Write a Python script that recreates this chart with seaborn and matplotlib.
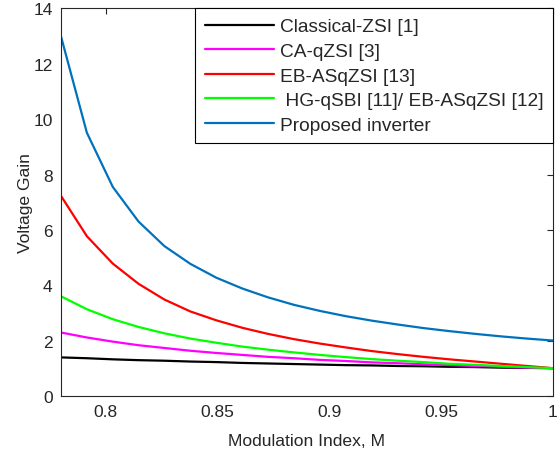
"""
Voltage gain vs modulation index for several impedance-source inverters.
"""

import matplotlib
matplotlib.use("Agg")
import matplotlib.pyplot as plt
import pandas as pd
import seaborn as sns

OUT_PATH = "out.png"

modulation_index = [
    0.78, 0.7916, 0.8032, 0.8147, 0.8263, 0.8379, 0.8495, 0.8611, 0.8726, 0.8842,
    0.8958, 0.9074, 0.9189, 0.9305, 0.9421, 0.9537, 0.9653, 0.9768, 0.9884, 1.0,
]

classical_zsi = [
    1.39, 1.36, 1.32, 1.29, 1.27, 1.24, 1.22, 1.19, 1.17, 1.15,
    1.13, 1.11, 1.10, 1.08, 1.07, 1.05, 1.04, 1.02, 1.01, 1.00,
]
ca_qzsi = [
    2.29, 2.11, 1.96, 1.83, 1.73, 1.63, 1.55, 1.48, 1.41, 1.36,
    1.30, 1.26, 1.21, 1.18, 1.14, 1.11, 1.08, 1.05, 1.02, 1.00,
]
eb_asqzsi_13 = [
    7.23, 5.77, 4.78, 4.05, 3.48, 3.05, 2.73, 2.46, 2.24, 2.05,
    1.89, 1.75, 1.62, 1.51, 1.41, 1.32, 1.24, 1.16, 1.08, 1.00,
]
hg_qsbi = [
    3.60, 3.13, 2.77, 2.49, 2.26, 2.07, 1.92, 1.78, 1.67, 1.57,
    1.48, 1.40, 1.33, 1.27, 1.22, 1.16, 1.12, 1.08, 1.04, 1.00,
]
proposed = [
    13.0, 9.51, 7.55, 6.30, 5.41, 4.77, 4.27, 3.88, 3.56, 3.29,
    3.07, 2.88, 2.72, 2.58, 2.45, 2.34, 2.24, 2.15, 2.07, 2.00,
]

series_labels = [
    "Classical-ZSI [1]",
    "CA-qZSI [3]",
    "EB-ASqZSI [13]",
    " HG-qSBI [11]/ EB-ASqZSI [12]",
    "Proposed inverter",
]
series_values = [classical_zsi, ca_qzsi, eb_asqzsi_13, hg_qsbi, proposed]
series_colors = ["#000000", "#ff00ff", "#ff0000", "#00ff00", "#0072bd"]

x_ticks = [0.8, 0.85, 0.9, 0.95, 1.0]
x_tick_labels = ["0.8", "0.85", "0.9", "0.95", "1"]
y_ticks = [0, 2, 4, 6, 8, 10, 12, 14]


def build_frame() -> pd.DataFrame:
    rows = []
    for label, values in zip(series_labels, series_values):
        for m, g in zip(modulation_index, values):
            rows.append({"M": m, "Gain": g, "Series": label})
    return pd.DataFrame(rows)


def main() -> None:
    sns.set_theme(style="white")
    plt.rcParams["font.family"] = ["Liberation Sans", "DejaVu Sans"]

    df = build_frame()
    fig = plt.figure(figsize=(5.59, 4.52), dpi=100)
    ax = fig.add_axes([0.109, 0.122, 0.880, 0.857])

    sns.lineplot(
        data=df,
        x="M",
        y="Gain",
        hue="Series",
        hue_order=series_labels,
        palette=dict(zip(series_labels, series_colors)),
        estimator=None,
        linewidth=1.6,
        ax=ax,
    )

    ax.set_xlim(0.78, 1.0)
    ax.set_ylim(0, 14)
    ax.set_xticks(x_ticks)
    ax.set_xticklabels(x_tick_labels)
    ax.set_yticks(y_ticks)
    ax.set_xlabel("Modulation Index, M", fontsize=12.6, color="#262626", labelpad=10)
    ax.set_ylabel("Voltage Gain", fontsize=12.6, color="#262626", labelpad=0.5)
    ax.tick_params(
        direction="in", length=4, width=0.8, colors="#262626",
        labelsize=12.5, top=True, right=True, pad=6,
    )
    for spine in ax.spines.values():
        spine.set_color("#262626")
        spine.set_linewidth(0.8)

    leg = ax.legend(
        loc="upper right",
        borderaxespad=0,
        fontsize=13.8,
        frameon=True,
        fancybox=False,
        edgecolor="black",
        framealpha=1,
        handlelength=3.6,
        handletextpad=0.3,
        labelspacing=0.37,
        borderpad=0.5,
        title=None,
    )
    leg.get_frame().set_linewidth(0.8)
    for line in leg.get_lines():
        line.set_linewidth(1.6)

    fig.savefig(OUT_PATH, dpi=100)
    plt.close(fig)


if __name__ == "__main__":
    main()
